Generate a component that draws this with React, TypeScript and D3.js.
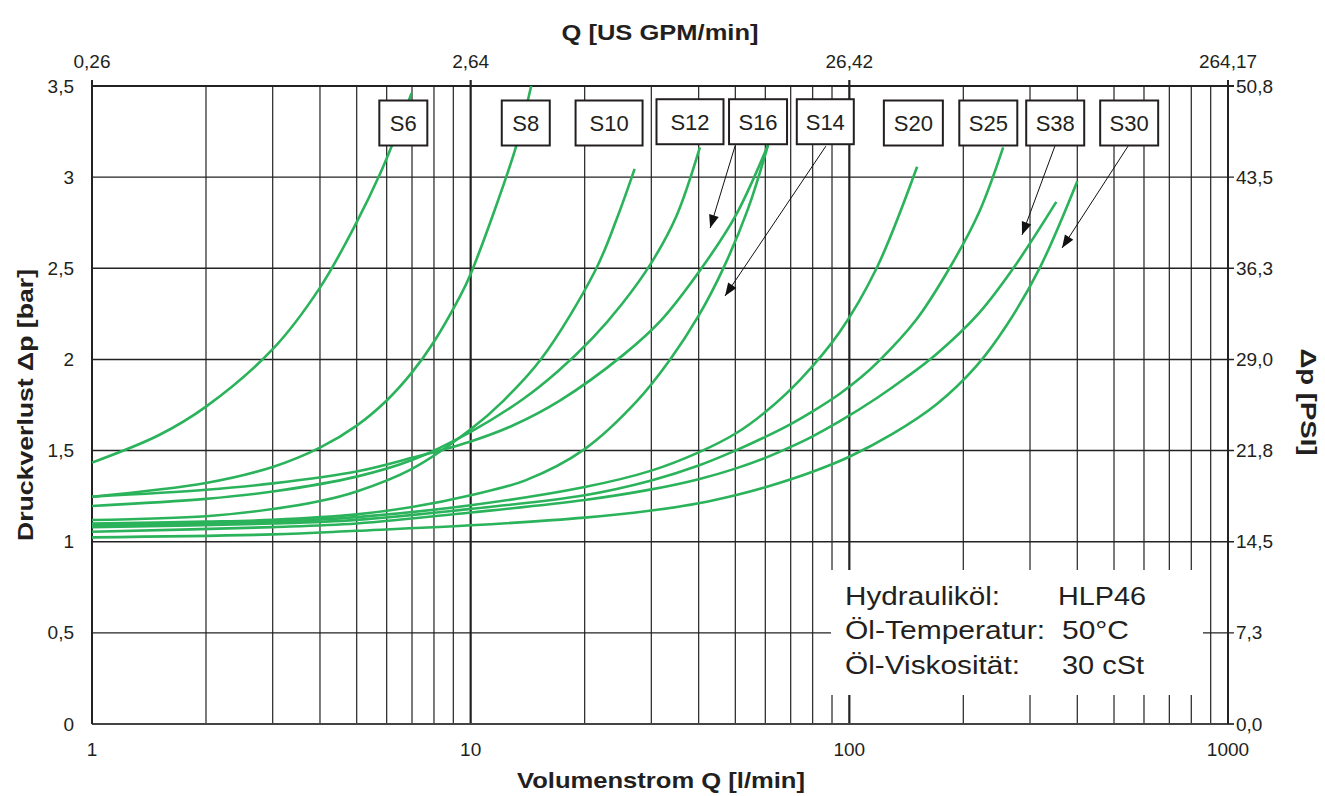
import React from "react";
import * as d3 from "d3";

// ---------- data ----------
const Q_TICKS = [1, 10, 100, 1000];
const Q_LABELS = ["1", "10", "100", "1000"];
const GPM_LABELS = ["0,26", "2,64", "26,42", "264,17"];
const DP_TICKS = [0, 0.5, 1, 1.5, 2, 2.5, 3, 3.5];
const DP_LABELS = ["0", "0,5", "1", "1,5", "2", "2,5", "3", "3,5"];
const PSI_LABELS = ["0,0", "7,3", "14,5", "21,8", "29,0", "36,3", "43,5", "50,8"];

// [Q l/min, Δp bar]
const S6 = [[1, 1.434], [1.5, 1.584], [2, 1.741], [3, 2.056], [4, 2.394], [5, 2.753], [5.76, 3.017], [6.24, 3.19], [6.98, 3.46]];
const S8 = [[1, 1.247], [2, 1.322], [3, 1.41], [4, 1.516], [5, 1.637], [6, 1.775], [7, 1.929], [8, 2.097], [9.28, 2.329], [10, 2.469], [13.1, 3.15], [14, 3.38], [14.45, 3.5]];
const S10 = [[1, 1.119], [2, 1.14], [3, 1.179], [4, 1.223], [5, 1.276], [7, 1.4], [10, 1.617], [12.2, 1.773], [15.4, 2.006], [21.3, 2.485], [24.3, 2.77], [27.1, 3.045]];
const S12 = [[1, 1.196], [2, 1.235], [3, 1.275], [5, 1.357], [7, 1.448], [10, 1.603], [13.7, 1.78], [17, 1.935], [21, 2.118], [25, 2.3], [30, 2.53], [35, 2.79], [40.3, 3.163]];
const S16 = [[1, 1.247], [2, 1.285], [3, 1.32], [5, 1.385], [7, 1.46], [10, 1.55], [13, 1.64], [17.2, 1.774], [25.3, 2.025], [32, 2.22], [40.7, 2.5], [50, 2.786], [61, 3.176]];
const S14 = [[1, 1.1], [2, 1.11], [3, 1.12], [5, 1.15], [7, 1.19], [10, 1.255], [14, 1.338], [20, 1.508], [27.4, 1.768], [33.6, 1.998], [40, 2.24], [46.4, 2.497], [54, 2.826], [61, 3.176]];
const S20 = [[1, 1.09], [2, 1.1], [3, 1.11], [5, 1.135], [10, 1.2], [20, 1.3], [30, 1.39], [40, 1.49], [50.2, 1.595], [60.1, 1.713], [74, 1.887], [94.4, 2.152], [118, 2.5], [151, 3.057]];
const S25 = [[1, 1.08], [3, 1.1], [5, 1.12], [10, 1.18], [20, 1.255], [30, 1.336], [40, 1.418], [50, 1.5], [60, 1.575], [70, 1.645], [80, 1.715], [94.4, 1.812], [107.6, 1.903], [120, 1.993], [150, 2.216], [182, 2.485], [220, 2.806], [254.8, 3.163]];
const S38 = [[1, 1.055], [3, 1.08], [5, 1.1], [10, 1.16], [20, 1.229], [30, 1.287], [40, 1.343], [50, 1.401], [60, 1.46], [70, 1.52], [80, 1.578], [94.4, 1.661], [118, 1.787], [140, 1.895], [170, 2.03], [220, 2.254], [271, 2.5], [352, 2.864]];
const S30 = [[1, 1.024], [3, 1.04], [5, 1.06], [10, 1.09], [20, 1.132], [30, 1.171], [40, 1.211], [50, 1.255], [60, 1.299], [80, 1.384], [100, 1.466], [130, 1.591], [170, 1.754], [217, 1.966], [260, 2.186], [318.6, 2.504], [400, 2.978]];

const SERIES_NAMES = ["S6", "S8", "S10", "S12", "S16", "S14", "S20", "S25", "S38", "S30"];
const SERIES_DATA = [S6, S8, S10, S12, S16, S14, S20, S25, S38, S30];

// label boxes: centre in data units
const LABEL_Q = [6.64, 13.98, 23.2, 37.95, 57.4, 86.4, 147.6, 232.8, 349.7, 548.3];
const LABEL_DP = [3.297, 3.297, 3.297, 3.304, 3.304, 3.304, 3.297, 3.297, 3.297, 3.297];
const LABEL_W = [48, 48, 67, 67, 58, 57, 59, 58, 58, 58];

// arrows (from label to curve), data units
const ARROW_FROM = [[49.9, 3.17], [86.7, 3.17], [349, 3.17], [544.6, 3.17]];
const ARROW_TO = [[42.9, 2.721], [46.96, 2.348], [285.8, 2.683], [364.5, 2.611]];

const INFO_LEFT = ["Hydrauliköl:", "Öl-Temperatur:", "Öl-Viskosität:"];
const INFO_RIGHT = ["HLP46", "50°C", "30 cSt"];
const INFO_LEFT_LEN = [155, 200, 175];
const INFO_RIGHT_LEN = [88, 67, 82];

// ---------- layout ----------
const W = 1325, H = 796;
const L = 92, R = 1228, T = 86, B = 724;
const FONT = "'Liberation Sans', Arial, Helvetica, sans-serif";
const GREEN = "#2bb35b";
const INK = "#231f20";

export default function App() {
  const x = d3.scaleLog().domain([1, 1000]).range([L, R]);
  const y = d3.scaleLinear().domain([0, 3.5]).range([B, T]);
  const line = d3
    .line<number[]>()
    .x((d) => x(d[0]))
    .y((d) => y(d[1]))
    .curve(d3.curveCatmullRom.alpha(0.5));

  const minor: number[] = [];
  for (let e = 0; e < 3; e++) for (let m = 2; m <= 9; m++) minor.push(m * Math.pow(10, e));

  const arrowHead = (x1: number, y1: number, x2: number, y2: number) => {
    const a = Math.atan2(y2 - y1, x2 - x1);
    const len = 13, w = 5;
    const bx = x2 - len * Math.cos(a), by = y2 - len * Math.sin(a);
    const px = -Math.sin(a) * w, py = Math.cos(a) * w;
    return `M${x2},${y2}L${bx + px},${by + py}L${bx - px},${by - py}Z`;
  };

  return (
    <svg
      width={W}
      height={H}
      style={{ position: "absolute", left: 0, top: 0, background: "#fff" }}
      fontFamily={FONT}
    >
      <rect x={0} y={0} width={W} height={H} fill="#fff" />
      {/* vertical grid */}
      {minor.map((v) => (
        <line key={"v" + v} x1={x(v)} x2={x(v)} y1={T} y2={B} stroke="#333" strokeWidth={1.3} />
      ))}
      {[10, 100].map((v) => (
        <line key={"d" + v} x1={x(v)} x2={x(v)} y1={T - 6} y2={B} stroke="#222" strokeWidth={2.2} />
      ))}
      {/* horizontal grid */}
      {DP_TICKS.map((v) => (
        <line key={"h" + v} x1={L} x2={R + 6} y1={y(v)} y2={y(v)} stroke="#222" strokeWidth={1.4} />
      ))}
      {/* info box */}
      <rect x={831} y={570} width={372} height={125} fill="#fff" />
      {/* frame */}
      <line x1={L} x2={R + 6} y1={T} y2={T} stroke="#222" strokeWidth={2} />
      <line x1={L} x2={R + 6} y1={B} y2={B} stroke="#444" strokeWidth={2.2} />
      <line x1={L} x2={L} y1={T - 6} y2={B} stroke="#222" strokeWidth={2} />
      <line x1={R} x2={R} y1={T - 6} y2={B} stroke="#222" strokeWidth={2} />

      {/* curves */}
      {SERIES_DATA.map((d, i) => (
        <path key={SERIES_NAMES[i]} d={line(d) || ""} fill="none" stroke={GREEN} strokeWidth={2.6} />
      ))}

      {/* label boxes */}
      {SERIES_NAMES.map((n, i) => {
        const cx = x(LABEL_Q[i]);
        const cy = y(LABEL_DP[i]);
        const w = LABEL_W[i];
        return (
          <g key={"lb" + n}>
            <rect x={cx - w / 2} y={cy - 22.5} width={w} height={45} fill="#fff" stroke={INK} strokeWidth={2} />
            <text x={cx} y={cy + 7.8} fontSize={22} textAnchor="middle" fill={INK}>
              {n}
            </text>
          </g>
        );
      })}

      {/* arrows */}
      {ARROW_FROM.map((f, i) => {
        const x1 = x(f[0]), y1 = y(f[1]);
        const x2 = x(ARROW_TO[i][0]), y2 = y(ARROW_TO[i][1]);
        return (
          <g key={"ar" + i}>
            <line x1={x1} y1={y1} x2={x2} y2={y2} stroke="#111" strokeWidth={1} />
            <path d={arrowHead(x1, y1, x2, y2)} fill="#111" />
          </g>
        );
      })}

      {/* info text */}
      {INFO_LEFT.map((t, i) => (
        <text key={"il" + i} x={845} y={604.5 + i * 34.5} fontSize={25} fill={INK} textLength={INFO_LEFT_LEN[i]} lengthAdjust="spacingAndGlyphs">
          {t}
        </text>
      ))}
      {INFO_RIGHT.map((t, i) => (
        <text key={"ir" + i} x={i === 0 ? 1058 : 1062} y={604.5 + i * 34.5} fontSize={25} fill={INK} textLength={INFO_RIGHT_LEN[i]} lengthAdjust="spacingAndGlyphs">
          {t}
        </text>
      ))}

      {/* tick labels */}
      {DP_TICKS.map((v, i) => (
        <text key={"yl" + v} x={74} y={y(v) + 6.5} fontSize={19} textAnchor="end" fill={INK}>
          {DP_LABELS[i]}
        </text>
      ))}
      {DP_TICKS.map((v, i) => (
        <text key={"yr" + v} x={1236} y={y(v) + 6.5} fontSize={19} textAnchor="start" fill={INK}>
          {PSI_LABELS[i]}
        </text>
      ))}
      {Q_TICKS.map((v, i) => (
        <text key={"xb" + v} x={x(v)} y={756} fontSize={19} textAnchor="middle" fill={INK}>
          {Q_LABELS[i]}
        </text>
      ))}
      {Q_TICKS.map((v, i) => (
        <text key={"xt" + v} x={x(v)} y={68} fontSize={19} textAnchor="middle" fill={INK}>
          {GPM_LABELS[i]}
        </text>
      ))}

      {/* titles */}
      <text x={660} y={40} fontSize={22} fontWeight="bold" textAnchor="middle" fill={INK} textLength={197} lengthAdjust="spacingAndGlyphs">
        Q [US GPM/min]
      </text>
      <text x={661} y={788} fontSize={22} fontWeight="bold" textAnchor="middle" fill={INK} textLength={288} lengthAdjust="spacingAndGlyphs">
        Volumenstrom Q [l/min]
      </text>
      <text
        transform="translate(33,405) rotate(-90)"
        fontSize={22}
        fontWeight="bold"
        textAnchor="middle"
        fill={INK}
        textLength={272}
        lengthAdjust="spacingAndGlyphs"
      >
        Druckverlust Δp [bar]
      </text>
      <text
        transform="translate(1301,402) rotate(90)"
        fontSize={22}
        fontWeight="bold"
        textAnchor="middle"
        fill={INK}
        textLength={107}
        lengthAdjust="spacingAndGlyphs"
      >
        Δp [PSI]
      </text>
    </svg>
  );
}
